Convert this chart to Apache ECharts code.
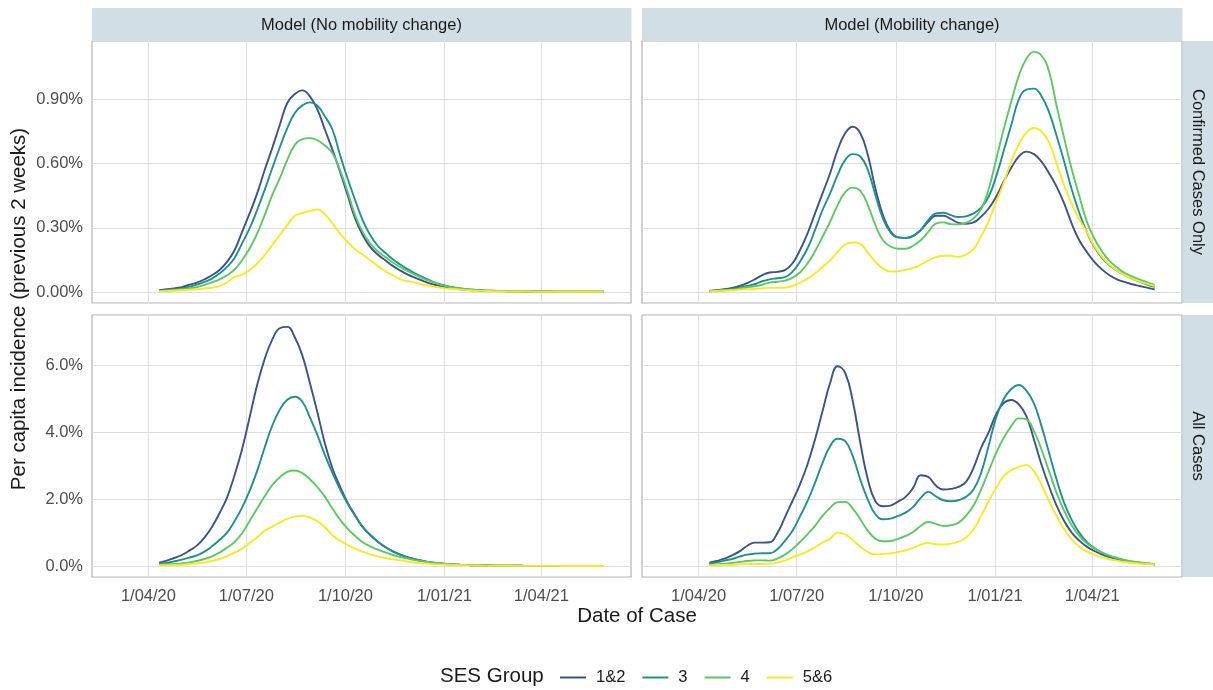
<!DOCTYPE html>
<html><head><meta charset="utf-8">
<script src="https://cdn.jsdelivr.net/npm/echarts@6/dist/echarts.min.js"></script>
<style>html,body{margin:0;padding:0;background:#fff}#chart{width:1213px;height:690px}</style>
</head><body><div id="chart"></div>
<script>
// ---------- data ----------
const groups = ['1&2', '3', '4', '5&6'];
const colCats = ['Model (No mobility change)', 'Model (Mobility change)'];
const rowCats = ['Confirmed Cases Only', 'All Cases'];
const xTickDates = ['2020-04-01', '2020-07-01', '2020-10-01', '2021-01-01', '2021-04-01'];
const xTickLabels = ['1/04/20', '1/07/20', '1/10/20', '1/01/21', '1/04/21'];
const topTicks = [0, 0.3, 0.6, 0.9];
const topTickLabels = ['0.00%', '0.30%', '0.60%', '0.90%'];
const botTicks = [0, 2, 4, 6];
const botTickLabels = ['0.0%', '2.0%', '4.0%', '6.0%'];

const dates = [
'2020-04-11','2020-04-18','2020-04-25','2020-05-02','2020-05-09','2020-05-16','2020-05-23','2020-05-30','2020-06-06','2020-06-13',
'2020-06-20','2020-06-27','2020-07-04','2020-07-11','2020-07-18','2020-07-25','2020-08-01','2020-08-08','2020-08-15','2020-08-22',
'2020-08-29','2020-09-05','2020-09-12','2020-09-19','2020-09-26','2020-10-03','2020-10-10','2020-10-17','2020-10-24','2020-10-31',
'2020-11-07','2020-11-14','2020-11-21','2020-11-28','2020-12-05','2020-12-12','2020-12-19','2020-12-26','2021-01-02','2021-01-09',
'2021-01-16','2021-01-23','2021-01-30','2021-02-06','2021-02-13','2021-02-20','2021-02-27','2021-03-06','2021-03-13','2021-03-20',
'2021-03-27','2021-04-03','2021-04-10','2021-04-17','2021-04-24','2021-05-01','2021-05-08','2021-05-15','2021-05-22','2021-05-29'];

// Confirmed cases only, no mobility change (%)
const tl12 = [
0.008,0.0125,0.017,0.023,0.034,0.044,0.059,0.078,0.103,0.141,
0.195,0.281,0.367,0.461,0.57,0.672,0.78,0.883,0.925,0.942,
0.914,0.852,0.758,0.664,0.5625,0.453,0.344,0.266,0.211,0.175,
0.148,0.122,0.1,0.081,0.066,0.052,0.039,0.03,0.022,0.017,
0.0125,0.009,0.008,0.006,0.005,0.004,0.004,0.003,0.003,0.002,
0.002,0.002,0.001,0.001,0.001,0.001,0.001,0.001,0.001,0.001];
const tl3 = [
0.006,0.009,0.0125,0.017,0.025,0.034,0.047,0.0625,0.086,0.117,
0.159,0.227,0.297,0.383,0.477,0.578,0.675,0.766,0.836,0.872,
0.886,0.87,0.82,0.758,0.64,0.53,0.43,0.336,0.266,0.216,
0.183,0.153,0.128,0.106,0.086,0.069,0.053,0.039,0.03,0.022,
0.017,0.0125,0.009,0.007,0.006,0.005,0.004,0.003,0.003,0.002,
0.002,0.002,0.002,0.001,0.001,0.001,0.001,0.001,0.001,0.001];
const tl4 = [
0.005,0.006,0.009,0.0125,0.017,0.023,0.033,0.045,0.059,0.078,
0.105,0.148,0.203,0.273,0.359,0.453,0.531,0.617,0.6875,0.714,
0.719,0.709,0.684,0.648,0.57,0.469,0.359,0.281,0.227,0.19,
0.164,0.1375,0.116,0.097,0.08,0.064,0.05,0.0375,0.028,0.02,
0.016,0.0125,0.01,0.008,0.006,0.005,0.004,0.003,0.003,0.002,
0.002,0.002,0.002,0.001,0.001,0.001,0.001,0.001,0.001,0.001];
const tl56 = [
0.003,0.005,0.006,0.008,0.011,0.0125,0.016,0.02,0.027,0.044,
0.07,0.081,0.102,0.133,0.172,0.219,0.266,0.3125,0.356,0.369,
0.378,0.386,0.3625,0.32,0.273,0.234,0.2,0.175,0.148,0.122,
0.097,0.078,0.059,0.05,0.044,0.034,0.028,0.022,0.017,0.014,
0.011,0.008,0.006,0.005,0.004,0.003,0.003,0.002,0.002,0.002,
0.001,0.001,0.001,0.001,0.001,0.001,0.001,0.001,0.001,0.001];

// Confirmed cases only, mobility change (%)
const tr12 = [
0.005,0.008,0.0125,0.019,0.028,0.041,0.059,0.078,0.091,0.094,
0.102,0.133,0.195,0.273,0.367,0.461,0.555,0.664,0.742,0.772,
0.742,0.64,0.484,0.359,0.284,0.255,0.253,0.2625,0.289,0.328,
0.356,0.356,0.341,0.323,0.319,0.325,0.352,0.39,0.445,0.516,
0.58,0.633,0.656,0.644,0.609,0.555,0.492,0.414,0.32,0.242,
0.1875,0.141,0.106,0.078,0.059,0.047,0.036,0.028,0.02,0.012];
const tr3 = [
0.003,0.006,0.009,0.014,0.02,0.028,0.036,0.05,0.059,0.064,
0.069,0.094,0.141,0.203,0.289,0.383,0.461,0.547,0.617,0.644,
0.633,0.57,0.453,0.344,0.278,0.255,0.252,0.261,0.289,0.336,
0.367,0.37,0.359,0.35,0.353,0.367,0.394,0.445,0.54,0.66,
0.78,0.9,0.945,0.95,0.915,0.84,0.73,0.61,0.48,0.37,
0.28,0.21,0.16,0.125,0.1,0.08,0.063,0.048,0.035,0.024];
const tr4 = [
0.003,0.005,0.008,0.011,0.016,0.022,0.027,0.034,0.044,0.048,
0.053,0.066,0.091,0.133,0.19,0.258,0.328,0.406,0.466,0.4875,
0.472,0.406,0.3125,0.242,0.2125,0.202,0.202,0.216,0.242,0.281,
0.319,0.325,0.317,0.316,0.323,0.344,0.386,0.48,0.62,0.76,
0.89,1.01,1.09,1.122,1.105,1.03,0.87,0.72,0.575,0.45,
0.33,0.25,0.19,0.145,0.115,0.09,0.073,0.058,0.045,0.033];
const tr56 = [
0.002,0.005,0.006,0.008,0.011,0.0125,0.014,0.017,0.019,0.0195,
0.02,0.028,0.042,0.0625,0.086,0.117,0.148,0.1875,0.222,0.231,
0.225,0.184,0.141,0.109,0.095,0.097,0.103,0.1125,0.128,0.147,
0.1625,0.169,0.169,0.164,0.175,0.2,0.26,0.33,0.42,0.51,
0.61,0.69,0.745,0.766,0.75,0.7,0.6,0.5,0.41,0.34,
0.28,0.215,0.165,0.128,0.1,0.08,0.064,0.05,0.038,0.028];

// All cases, no mobility change (%)
const bl12 = [
0.10,0.16,0.24,0.33,0.46,0.61,0.85,1.17,1.58,2.05,
2.72,3.5,4.45,5.42,6.2,6.78,7.12,7.16,6.85,6.3,
5.48,4.6,3.66,2.92,2.38,1.9,1.52,1.17,0.94,0.73,
0.57,0.44,0.34,0.26,0.2,0.15,0.11,0.085,0.06,0.045,
0.035,0.028,0.022,0.018,0.014,0.011,0.009,0.007,0.006,0.005,
0.004,0.004,0.003,0.003,0.003,0.002,0.002,0.002,0.002,0.002];
const bl3 = [
0.06,0.09,0.14,0.19,0.25,0.32,0.43,0.59,0.78,1.0,
1.34,1.75,2.25,2.85,3.55,4.2,4.68,4.98,5.07,4.92,
4.45,3.92,3.32,2.78,2.3,1.87,1.5,1.17,0.93,0.73,
0.57,0.44,0.34,0.26,0.2,0.15,0.11,0.085,0.06,0.045,
0.035,0.028,0.022,0.018,0.014,0.011,0.009,0.007,0.006,0.005,
0.004,0.004,0.003,0.003,0.003,0.002,0.002,0.002,0.002,0.002];
const bl4 = [
0.04,0.05,0.06,0.08,0.11,0.15,0.21,0.29,0.4,0.55,
0.72,0.98,1.35,1.72,2.09,2.42,2.66,2.82,2.86,2.78,
2.6,2.36,2.07,1.72,1.39,1.12,0.9,0.71,0.59,0.49,
0.41,0.33,0.27,0.22,0.17,0.14,0.11,0.09,0.06,0.045,
0.035,0.028,0.022,0.018,0.014,0.011,0.009,0.007,0.006,0.005,
0.004,0.004,0.003,0.003,0.003,0.002,0.002,0.002,0.002,0.002];
const bl56 = [
0.02,0.025,0.03,0.04,0.055,0.08,0.11,0.15,0.21,0.29,
0.4,0.52,0.69,0.86,1.06,1.18,1.3,1.41,1.48,1.5,
1.45,1.34,1.16,0.92,0.76,0.63,0.52,0.43,0.35,0.29,
0.24,0.2,0.17,0.13,0.1,0.085,0.065,0.05,0.04,0.03,
0.025,0.02,0.016,0.013,0.01,0.008,0.007,0.006,0.005,0.004,
0.004,0.003,0.003,0.003,0.002,0.002,0.002,0.002,0.002,0.002];

// All cases, mobility change (%)
const br12 = [
0.10,0.15,0.22,0.32,0.44,0.60,0.70,0.70,0.71,0.98,
1.45,1.94,2.44,3.04,3.79,4.64,5.48,5.98,5.78,4.94,
3.69,2.59,1.94,1.79,1.81,1.93,2.07,2.34,2.72,2.67,
2.41,2.29,2.31,2.37,2.52,2.94,3.54,4.0,4.55,4.88,
4.97,4.84,4.49,3.79,3.04,2.39,1.81,1.35,1.0,0.76,
0.58,0.45,0.35,0.27,0.21,0.16,0.12,0.09,0.07,0.05];
const br3 = [
0.07,0.11,0.16,0.21,0.28,0.34,0.37,0.38,0.38,0.5,
0.75,1.05,1.48,1.94,2.49,3.09,3.59,3.81,3.74,3.29,
2.59,1.99,1.55,1.40,1.42,1.50,1.60,1.77,2.04,2.22,
2.09,1.97,1.94,1.97,2.07,2.29,2.79,3.6,4.45,5.0,
5.3,5.42,5.25,4.87,4.19,3.39,2.59,1.89,1.38,1.0,
0.72,0.54,0.40,0.30,0.23,0.17,0.13,0.10,0.07,0.05];
const br4 = [
0.04,0.05,0.07,0.09,0.12,0.15,0.17,0.17,0.16,0.22,
0.34,0.50,0.72,0.95,1.20,1.50,1.74,1.91,1.92,1.72,
1.40,1.05,0.82,0.74,0.75,0.81,0.90,1.02,1.20,1.32,
1.26,1.20,1.22,1.30,1.50,1.81,2.29,2.84,3.39,3.84,
4.19,4.42,4.39,4.04,3.49,2.84,2.19,1.65,1.22,0.90,
0.68,0.52,0.40,0.31,0.24,0.18,0.14,0.11,0.08,0.06];
const br56 = [
0.02,0.03,0.035,0.04,0.05,0.06,0.06,0.06,0.07,0.10,
0.16,0.26,0.34,0.44,0.56,0.70,0.82,1.00,0.95,0.78,
0.58,0.42,0.35,0.36,0.38,0.42,0.47,0.54,0.64,0.69,
0.65,0.64,0.67,0.73,0.85,1.10,1.50,1.94,2.34,2.69,
2.87,2.97,3.02,2.84,2.44,1.94,1.50,1.10,0.80,0.58,
0.44,0.34,0.26,0.20,0.16,0.12,0.09,0.07,0.06,0.05];

// ---------- styling ----------
const colors = ['#3B528B', '#21908C', '#5DC863', '#FDE725'];
const FONT = '"Liberation Sans", Arial, Helvetica, sans-serif';
const stripFill = '#D1DEE5';
const labelColor = '#4D4D4D';

function ts(s) {
  const p = s.split(/[- :]/).map(Number);
  return Date.UTC(p[0], p[1] - 1, p[2], p[3] || 0, p[4] || 0);
}
const xMin = ts('2020-02-08 14:00');
const xMax = ts('2021-06-23 07:00');
const xTickTs = xTickDates.map(ts);

const panelData = [
  [tl12, tl3, tl4, tl56],
  [tr12, tr3, tr4, tr56],
  [bl12, bl3, bl4, bl56],
  [br12, br3, br4, br56]
];
const gridBoxes = [
  {left: 92, top: 41, width: 539, height: 262},
  {left: 642, top: 41, width: 540, height: 262},
  {left: 92, top: 315, width: 539, height: 262},
  {left: 642, top: 315, width: 540, height: 262}
];
const yRanges = [[-0.0515, 1.1727], [-0.0515, 1.1727], [-0.329, 7.517], [-0.329, 7.517]];

function findLabel(v, vals, labels, tol) {
  for (let i = 0; i < vals.length; i++) if (Math.abs(v - vals[i]) < tol) return labels[i];
  return '';
}

const grid = gridBoxes.map(g => Object.assign({
  show: true, borderColor: '#B3B3B3', borderWidth: 1.2, backgroundColor: 'transparent', containLabel: false
}, g));

const xAxis = gridBoxes.map((g, i) => ({
  type: 'value', gridIndex: i, min: xMin, max: xMax, scale: true,
  axisLine: {show: false},
  axisTick: {show: false, customValues: xTickTs},
  axisLabel: {
    show: i >= 2, customValues: xTickTs, margin: 11,
    color: labelColor, fontSize: 16.5, fontFamily: FONT,
    showMinLabel: true, showMaxLabel: true,
    formatter: v => findLabel(v, xTickTs, xTickLabels, 3600000)
  },
  splitLine: {show: true, lineStyle: {color: '#DEDEDE', width: 1}}
}));

const yAxis = gridBoxes.map((g, i) => {
  const top = i < 2;
  const ticks = top ? topTicks : botTicks;
  const labels = top ? topTickLabels : botTickLabels;
  return {
    type: 'value', gridIndex: i, min: yRanges[i][0], max: yRanges[i][1],
    axisLine: {show: false},
    axisTick: {show: false, customValues: ticks},
    axisLabel: {
      show: i % 2 === 0, customValues: ticks, margin: 9,
      color: labelColor, fontSize: 16.5, fontFamily: FONT,
      formatter: v => findLabel(v, ticks, labels, 1e-6)
    },
    splitLine: {show: true, lineStyle: {color: '#DEDEDE', width: 1}}
  };
});

const series = [];
panelData.forEach((arrs, p) => {
  arrs.forEach((arr, k) => {
    series.push({
      type: 'line', name: groups[k], xAxisIndex: p, yAxisIndex: p,
      data: dates.map((d, j) => [ts(d), arr[j]]),
      showSymbol: false, symbol: 'none', smooth: 0.45,
      color: colors[k],
      lineStyle: {width: 1.9, color: colors[k]},
      emphasis: {disabled: true}
    });
  });
});

const txt = (x, y, text, size, extra) => Object.assign({
  type: 'text', x: x, y: y, silent: true,
  style: {text: text, fill: '#1A1A1A', fontSize: size, fontFamily: FONT, align: 'center', verticalAlign: 'middle'}
}, extra || {});

const graphic = [
  {type: 'rect', shape: {x: 92, y: 8, width: 539.5, height: 32.5}, style: {fill: stripFill}, silent: true},
  {type: 'rect', shape: {x: 642, y: 8, width: 540.5, height: 32.5}, style: {fill: stripFill}, silent: true},
  {type: 'rect', shape: {x: 1183, y: 41, width: 30, height: 262}, style: {fill: stripFill}, silent: true},
  {type: 'rect', shape: {x: 1183, y: 315, width: 30, height: 262}, style: {fill: stripFill}, silent: true},
  txt(361.5, 25, colCats[0], 16.5),
  txt(912, 25, colCats[1], 16.5),
  txt(1198, 172, rowCats[0], 16.5, {rotation: -Math.PI / 2}),
  txt(1198, 446, rowCats[1], 16.5, {rotation: -Math.PI / 2}),
  txt(19, 309, 'Per capita incidence (previous 2 weeks)', 20.5, {rotation: Math.PI / 2}),
  txt(637, 616, 'Date of Case', 20.5),
  {type: 'text', x: 440, y: 676, silent: true,
   style: {text: 'SES Group', fill: '#1A1A1A', fontSize: 20.5, fontFamily: FONT, align: 'left', verticalAlign: 'middle'}}
];

const chart = echarts.init(document.getElementById('chart'), null, {renderer: 'canvas'});
chart.setOption({
  animation: false,
  backgroundColor: '#ffffff',
  textStyle: {fontFamily: FONT},
  grid: grid,
  xAxis: xAxis,
  yAxis: yAxis,
  legend: {
    data: groups, left: 555, top: 664, icon: 'rect', itemWidth: 26, itemHeight: 2, itemGap: 17,
    selectedMode: false,
    textStyle: {fontSize: 16.5, color: '#1A1A1A', fontFamily: FONT, padding: [0, 0, 0, 5]}
  },
  tooltip: {show: false},
  series: series,
  graphic: graphic
});
</script></body></html>
